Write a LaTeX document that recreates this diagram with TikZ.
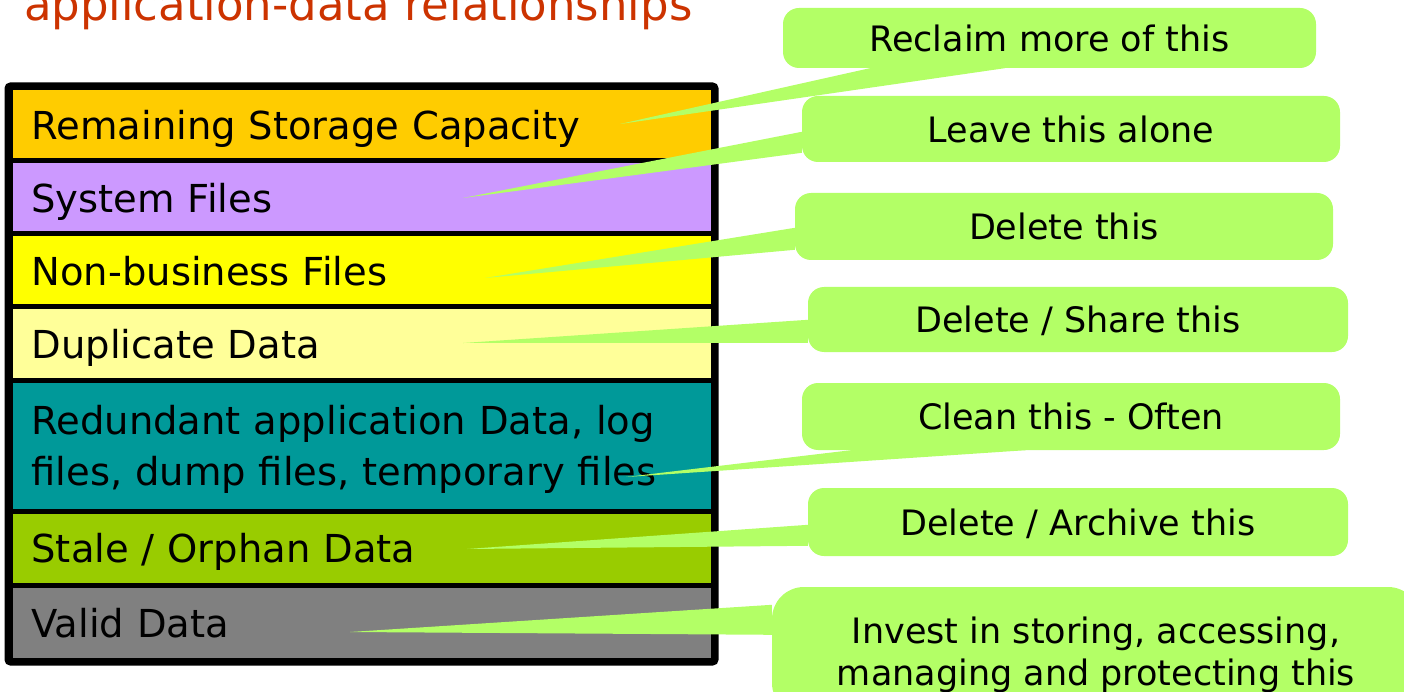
\documentclass[tikz,border=0pt]{standalone}
\usepackage{fontspec}
\setmainfont{DejaVu Sans}
\usetikzlibrary{calc}
\definecolor{capacity}{HTML}{FFCC00}
\definecolor{sysfiles}{HTML}{CC99FF}
\definecolor{nonbiz}{HTML}{FFFF00}
\definecolor{dupdata}{HTML}{FFFF99}
\definecolor{redundant}{HTML}{009999}
\definecolor{stale}{HTML}{99CC00}
\definecolor{valid}{HTML}{808080}
\definecolor{bubblegreen}{HTML}{B3FF66}
\definecolor{titlered}{HTML}{CC3300}
\tikzset{
  band/.style={draw, line width=5pt, minimum width=703pt, text width=660pt,
    inner xsep=21.5pt, align=left, text depth=0pt, font=\fontsize{38.5}{51}\selectfont},
  bubble/.style={fill=bubblegreen, rounded corners=16pt, align=center, text depth=0pt,
    font=\fontsize{35}{42}\selectfont},
  wedge/.style={fill=bubblegreen}
}
\begin{document}
\begin{tikzpicture}[x=1pt,y=-1pt]
                \path[use as bounding box] (0,0) rectangle (1404,692);
                \clip (0,0) rectangle (1404,692);
                \node[anchor=base west, inner sep=0pt, text=titlered, font=\fontsize{45}{52}\selectfont] (title) at (24,21) {application-data relationships};

                % storage stack
                \node[band, fill=capacity, minimum height=73pt] (remain) at (361.5,124.5) {Remaining Storage Capacity};
                \node[band, fill=sysfiles, minimum height=73pt] (system) at (361.5,197.5) {System Files};
                \node[band, fill=nonbiz, minimum height=73pt] (nonbiz) at (361.5,270.5) {Non-business Files};
                \node[band, fill=dupdata, minimum height=73pt] (dup) at (361.5,343.5) {Duplicate Data};
                \node[band, fill=redundant, minimum height=131pt, text depth=52pt] (redund) at (361.5,445.5) {Redundant application Data, log files, dump files, temporary files};
                \node[band, fill=stale, minimum height=74pt] (stale) at (361.5,548) {Stale / Orphan Data};
                \node[band, fill=valid, minimum height=75pt] (valid) at (361.5,622.5) {Valid Data};
                \draw[line width=6pt, rounded corners=3pt] (remain.north west) rectangle (valid.south east);

                % callout tips
                \coordinate (remainTip) at (620,124);
                \coordinate (systemTip) at (463,198);
                \coordinate (nonbizTip) at (485,278);
                \coordinate (dupTip) at (463,343);
                \coordinate (redundTip) at (626,477);
                \coordinate (staleTip) at (467,549);
                \coordinate (validTip) at (350,632);

                \node[bubble, minimum width=533pt, minimum height=60pt] (reclaim) at (1049.5,38) {Reclaim more of this};
                \node[bubble, minimum width=538pt, minimum height=66pt] (leave) at (1071,129) {Leave this alone};
                \node[bubble, minimum width=538pt, minimum height=67pt] (delete) at (1064,226.5) {Delete this};
                \node[bubble, minimum width=540pt, minimum height=65pt] (share) at (1078,319.5) {Delete / Share this};
                \node[bubble, minimum width=538pt, minimum height=67pt] (clean) at (1071,416.5) {Clean this - Often};
                \node[bubble, minimum width=540pt, minimum height=68pt] (archive) at (1078,522) {Delete / Archive this};
                \node[bubble, minimum width=648pt, minimum height=128pt, rounded corners=32pt] (invest) at (1096,651) {Invest in storing, accessing,\\managing and protecting this};

                \fill[wedge] ($(reclaim.south west)+(87,0)$) -- (remainTip) -- ($(reclaim.south west)+(222,0)$) -- cycle;
                \fill[wedge] ($(leave.north west)+(0,36)$) -- (systemTip) -- ($(leave.north west)+(0,57)$) -- cycle;
                \fill[wedge] ($(delete.north west)+(0,35)$) -- (nonbizTip) -- ($(delete.north west)+(0,57)$) -- cycle;
                \fill[wedge] ($(share.north west)+(0,33)$) -- (dupTip) -- ($(share.north west)+(0,56)$) -- cycle;
                \fill[wedge] ($(clean.south west)+(49,0)$) -- (redundTip) -- ($(clean.south west)+(224,0)$) -- cycle;
                \fill[wedge] ($(archive.north west)+(0,37)$) -- (staleTip) -- ($(archive.north west)+(0,58)$) -- cycle;
                \fill[wedge] ($(invest.north west)+(0,18)$) -- (validTip) -- ($(invest.north west)+(0,48)$) -- cycle;
            \end{tikzpicture}
\end{document}
